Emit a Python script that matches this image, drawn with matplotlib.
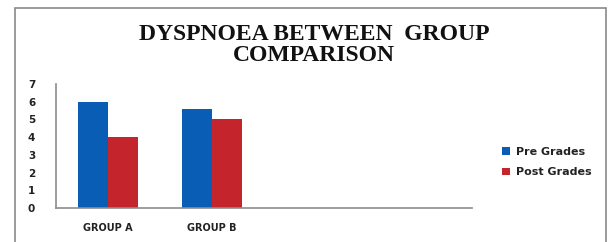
import matplotlib
matplotlib.use("Agg")
import matplotlib.pyplot as plt
from matplotlib.patches import Rectangle
import numpy as np

categories = ["GROUP A", "GROUP B", "", ""]
pre_grades = [6.0, 5.6, np.nan, np.nan]
post_grades = [4.0, 5.0, np.nan, np.nan]
series_names = ["Pre Grades", "Post Grades"]

BLUE = "#0A5DB5"
RED = "#C4242C"

W, H = 608, 242
fig = plt.figure(figsize=(W / 100, H / 100), dpi=100)
fig.patch.set_facecolor("white")

# outer chart frame
fig.patches.append(Rectangle((15 / W, -0.05), 591 / W, 1.05 - 8 / H,
                             transform=fig.transFigure, fill=False,
                             edgecolor="#8a8a8a", lw=1.2))

ax = fig.add_axes([56 / W, 34 / H, 416 / W, 124 / H])
x = np.arange(len(categories))
bw = 0.29
ax.bar(x - bw / 2, pre_grades, bw, color=BLUE, label=series_names[0])
ax.bar(x + bw / 2, post_grades, bw, color=RED, label=series_names[1])

ax.set_xlim(-0.5, len(categories) - 0.5)
ax.set_ylim(0, 7)
ax.set_yticks(range(0, 8))
ax.set_xticks(x)
ax.set_xticklabels(categories)
for s in ["top", "right"]:
    ax.spines[s].set_visible(False)
for s in ["left", "bottom"]:
    ax.spines[s].set_color("#8c8c8c")
    ax.spines[s].set_linewidth(1.2)
ax.tick_params(length=0)
ax.tick_params(axis="y", pad=15, labelsize=7.5, labelcolor="#222222")
ax.tick_params(axis="x", pad=11, labelsize=7, labelcolor="#222222")
for lbl in ax.get_yticklabels() + ax.get_xticklabels():
    lbl.set_fontweight("bold")

fig.text(314 / W, 1 - 45 / H, "DYSPNOEA BETWEEN  GROUP\nCOMPARISON",
         ha="center", va="center", fontsize=17, fontweight="bold",
         family="Liberation Serif", linespacing=1.05, color="#111111")

leg = fig.legend(loc="center left", bbox_to_anchor=(492 / W, 1 - 162 / H),
                 frameon=False, fontsize=8, handlelength=0.7,
                 handleheight=0.7, handletextpad=0.6, labelspacing=0.95,
                 prop={"weight": "bold", "size": 8})
for t in leg.get_texts():
    t.set_color("#222222")

fig.savefig("out.png", dpi=100)
